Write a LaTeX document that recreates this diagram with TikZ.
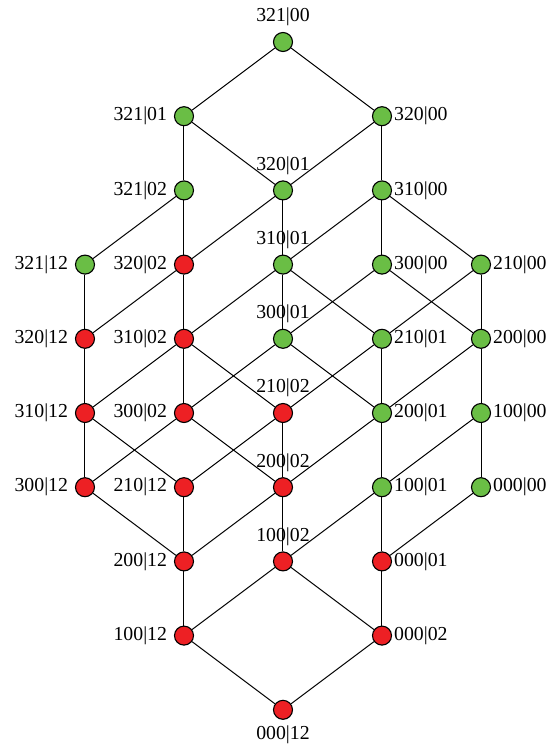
\documentclass[tikz,border=0pt]{standalone}
\usepackage{fontspec}
\setmainfont{Liberation Serif}
\usetikzlibrary{positioning}
\definecolor{okgreen}{RGB}{106,190,69}
\definecolor{badred}{RGB}{237,32,36}
\tikzset{
  pt/.style={circle,draw,line width=0.55pt,inner sep=0pt,minimum size=9.5pt},
  g/.style={pt,fill=okgreen},
  r/.style={pt,fill=badred},
  every label/.style={font=\fontsize{9.9}{12}\selectfont,inner sep=3.2pt},
  ll/.style={label={left:#1}},
  la/.style={label={[inner sep=2.6pt]above:#1}},
  lb/.style={label={[inner sep=2.6pt]below:#1}},
  lr/.style={label={[inner sep=0.8pt]right:#1}},
}
\begin{document}
\begin{tikzpicture}[node distance=37.1pt and 49.5pt,on grid,line width=0.5pt]
	\useasboundingbox (-141.5pt,21pt) rectangle (133pt,-354pt);
	\node[g] (n321_00) [la={321|00}] {};
	\node[g] (n321_01) [below left=of n321_00,ll={321|01}] {};
	\node[g] (n320_00) [below right=of n321_00,lr={320|00}] {};
	\node[g] (n321_02) [below=of n321_01,ll={321|02}] {};
	\node[g] (n320_01) [below right=of n321_01,la={320|01}] {};
	\node[g] (n310_00) [below=of n320_00,lr={310|00}] {};
	\node[g] (n321_12) [below left=of n321_02,ll={321|12}] {};
	\node[r] (n320_02) [below=of n321_02,ll={320|02}] {};
	\node[g] (n310_01) [below=of n320_01,la={310|01}] {};
	\node[g] (n300_00) [below=of n310_00,lr={300|00}] {};
	\node[g] (n210_00) [below right=of n310_00,lr={210|00}] {};
	\node[r] (n320_12) [below=of n321_12,ll={320|12}] {};
	\node[r] (n310_02) [below=of n320_02,ll={310|02}] {};
	\node[g] (n300_01) [below=of n310_01,la={300|01}] {};
	\node[g] (n210_01) [below=of n300_00,lr={210|01}] {};
	\node[g] (n200_00) [below=of n210_00,lr={200|00}] {};
	\node[r] (n310_12) [below=of n320_12,ll={310|12}] {};
	\node[r] (n300_02) [below=of n310_02,ll={300|02}] {};
	\node[r] (n210_02) [below=of n300_01,la={210|02}] {};
	\node[g] (n200_01) [below=of n210_01,lr={200|01}] {};
	\node[g] (n100_00) [below=of n200_00,lr={100|00}] {};
	\node[r] (n300_12) [below=of n310_12,ll={300|12}] {};
	\node[r] (n210_12) [below=of n300_02,ll={210|12}] {};
	\node[r] (n200_02) [below=of n210_02,la={200|02}] {};
	\node[g] (n100_01) [below=of n200_01,lr={100|01}] {};
	\node[g] (n000_00) [below=of n100_00,lr={000|00}] {};
	\node[r] (n200_12) [below=of n210_12,ll={200|12}] {};
	\node[r] (n100_02) [below=of n200_02,la={100|02}] {};
	\node[r] (n000_01) [below=of n100_01,lr={000|01}] {};
	\node[r] (n100_12) [below=of n200_12,ll={100|12}] {};
	\node[r] (n000_02) [below=of n000_01,lr={000|02}] {};
	\node[r] (n000_12) [below right=of n100_12,lb={000|12}] {};
	% first digit block
	\path[draw]
	(n321_00) edge (n320_00) (n321_01) edge (n320_01)
	(n321_02) edge (n320_02) (n321_12) edge (n320_12)
	(n320_00) edge (n310_00) (n320_01) edge (n310_01)
	(n320_02) edge (n310_02) (n320_12) edge (n310_12)
	(n310_00) edge (n300_00) edge (n210_00)
	(n310_01) edge (n300_01) edge (n210_01)
	(n310_02) edge (n300_02) edge (n210_02)
	(n310_12) edge (n300_12) edge (n210_12)
	(n300_00) edge (n200_00) (n300_01) edge (n200_01)
	(n300_02) edge (n200_02) (n300_12) edge (n200_12)
	(n210_00) edge (n200_00) (n210_01) edge (n200_01)
	(n210_02) edge (n200_02) (n210_12) edge (n200_12)
	(n200_00) edge (n100_00) (n200_01) edge (n100_01)
	(n200_02) edge (n100_02) (n200_12) edge (n100_12)
	(n100_00) edge (n000_00) (n100_01) edge (n000_01)
	(n100_02) edge (n000_02) (n100_12) edge (n000_12);
	% second block
	\path[draw]
	(n321_00) edge (n321_01) (n320_00) edge (n320_01)
	(n310_00) edge (n310_01) (n300_00) edge (n300_01)
	(n210_00) edge (n210_01) (n200_00) edge (n200_01)
	(n100_00) edge (n100_01) (n000_00) edge (n000_01)
	(n321_01) edge (n321_02) (n320_01) edge (n320_02)
	(n310_01) edge (n310_02) (n300_01) edge (n300_02)
	(n210_01) edge (n210_02) (n200_01) edge (n200_02)
	(n100_01) edge (n100_02) (n000_01) edge (n000_02)
	(n321_02) edge (n321_12) (n320_02) edge (n320_12)
	(n310_02) edge (n310_12) (n300_02) edge (n300_12)
	(n210_02) edge (n210_12) (n200_02) edge (n200_12)
	(n100_02) edge (n100_12) (n000_02) edge (n000_12);
\end{tikzpicture}
\end{document}
